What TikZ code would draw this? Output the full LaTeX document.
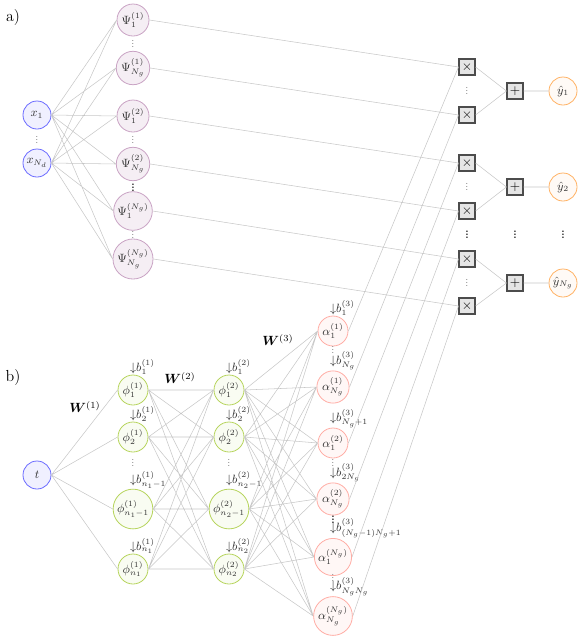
\documentclass[tikz,border=0pt]{standalone}
\usepackage{bm}
\usetikzlibrary{positioning}
\definecolor{inblue}{HTML}{6B6BFF}
\definecolor{psimauve}{HTML}{C9A3C4}
\definecolor{phigreen}{HTML}{B6D45C}
\definecolor{alphared}{HTML}{FFADA5}
\definecolor{outorange}{HTML}{FFB264}
\newcommand{\vdotsmall}{\vbox{\baselineskip2.2pt\lineskiplimit0pt\hbox{.}\hbox{.}\hbox{.}}}
\begin{document}
\begin{tikzpicture}[x=0.75pt,y=-0.75pt,
  neuron/.style={draw, circle, inner sep=1pt, line width=0.6pt, text=black!80, font=\small},
  innode/.style={neuron, draw=inblue, fill=inblue!10, minimum size=21pt},
  psinode/.style={neuron, draw=psimauve, fill=psimauve!18, minimum size=24pt},
  phinode/.style={neuron, draw=phigreen, fill=phigreen!8, minimum size=22.5pt},
  alphanode/.style={neuron, draw=alphared, fill=alphared!10, minimum size=22.5pt},
  outnode/.style={neuron, draw=outorange, fill=outorange!6, minimum size=21pt},
  opbox/.style={draw=black!70, fill=black!10, line width=0.8pt, minimum size=12pt, inner sep=0pt},
  bias/.style={inner sep=0pt, anchor=south west, xshift=-2.4pt, text=black!80, font=\small},
  dots/.style={inner sep=0pt, text=black!55, font=\scriptsize},
  bdots/.style={inner sep=0pt, text=black, font=\scriptsize\bfseries},
  wlabel/.style={font=\normalsize},
  conn/.style={draw=black!22, line width=0.4pt}]
\useasboundingbox (0,0) rectangle (582,640);

% a) product network
\node (la) at (13,18) {\large a)};
\node (x1) at (37,115) [innode] {$x_1$};
\node (xN) at (37,163) [innode] {$x_{N_d}$};
\node (dx) at (37,140) [dots] {\vdotsmall};

\node (P11) at (133,20) [psinode] {$\Psi_1^{(1)}$};
\node (P1N) at (133,68) [psinode] {$\Psi_{N_g}^{(1)}$};
\node (P21) at (133,116) [psinode] {$\Psi_1^{(2)}$};
\node (P2N) at (133,164) [psinode] {$\Psi_{N_g}^{(2)}$};
\node (PN1) at (133,211) [psinode] {$\Psi_1^{(N_g)}$};
\node (PNN) at (133,259) [psinode] {$\Psi_{N_g}^{(N_g)}$};
\node (dP1) at (133,44) [dots] {\vdotsmall};
\node (dP2) at (133,140) [dots] {\vdotsmall};
\node (dP3) at (133,188) [bdots] {\vdotsmall};
\node (dP4) at (133,235) [dots] {\vdotsmall};

\node (m1) at (467,67) [opbox] {$\times$};
\node (m2) at (467,115) [opbox] {$\times$};
\node (m3) at (467,163) [opbox] {$\times$};
\node (m4) at (467,211) [opbox] {$\times$};
\node (m5) at (467,259) [opbox] {$\times$};
\node (m6) at (467,306) [opbox] {$\times$};
\node (dm1) at (467,91) [dots] {\vdotsmall};
\node (dm2) at (467,187) [dots] {\vdotsmall};
\node (dm3) at (467,235) [bdots] {\vdotsmall};
\node (dm4) at (467,283) [dots] {\vdotsmall};

\node (s1) at (515,91) [opbox] {$+$};
\node (s2) at (515,187) [opbox] {$+$};
\node (s3) at (515,283) [opbox] {$+$};
\node (ds) at (515,235) [bdots] {\vdotsmall};

\node (y1) at (563,91) [outnode] {$\hat{y}_1$};
\node (y2) at (563,187) [outnode] {$\hat{y}_2$};
\node (y3) at (563,283) [outnode] {$\hat{y}_{N_g}$};
\node (dy) at (563,235) [bdots] {\vdotsmall};

% b) coefficient network
\node (lb) at (13,378) {\large b)};
\node (t) at (37,475) [innode] {$t$};

\node (f11) at (133,390) [phinode, label={[bias]90:$\mathord{\downarrow}b_1^{(1)}$}] {$\phi_1^{(1)}$};
\node (f12) at (133,437) [phinode, label={[bias]90:$\mathord{\downarrow}b_2^{(1)}$}] {$\phi_2^{(1)}$};
\node (f1m) at (133,509) [phinode, label={[bias]90:$\mathord{\downarrow}b_{n_1-1}^{(1)}$}] {$\phi_{n_1-1}^{(1)}$};
\node (f1n) at (133,569) [phinode, label={[bias]90:$\mathord{\downarrow}b_{n_1}^{(1)}$}] {$\phi_{n_1}^{(1)}$};
\node (df1) at (133,463) [dots] {\vdotsmall};

\node (f21) at (229,390) [phinode, label={[bias]90:$\mathord{\downarrow}b_1^{(2)}$}] {$\phi_1^{(2)}$};
\node (f22) at (229,437) [phinode, label={[bias]90:$\mathord{\downarrow}b_2^{(2)}$}] {$\phi_2^{(2)}$};
\node (f2m) at (229,509) [phinode, label={[bias]90:$\mathord{\downarrow}b_{n_2-1}^{(2)}$}] {$\phi_{n_2-1}^{(2)}$};
\node (f2n) at (229,569) [phinode, label={[bias]90:$\mathord{\downarrow}b_{n_2}^{(2)}$}] {$\phi_{n_2}^{(2)}$};
\node (df2) at (229,463) [dots] {\vdotsmall};

\node (a11) at (333,331) [alphanode, label={[bias]90:$\mathord{\downarrow}b_1^{(3)}$}] {$\alpha_1^{(1)}$};
\node (a1N) at (333,387) [alphanode, label={[bias]90:$\mathord{\downarrow}b_{N_g}^{(3)}$}] {$\alpha_{N_g}^{(1)}$};
\node (a21) at (333,443) [alphanode, label={[bias]90:$\mathord{\downarrow}b_{N_g+1}^{(3)}$}] {$\alpha_1^{(2)}$};
\node (a2N) at (333,499) [alphanode, label={[bias]90:$\mathord{\downarrow}b_{2N_g}^{(3)}$}] {$\alpha_{N_g}^{(2)}$};
\node (aN1) at (333,557) [alphanode, label={[bias]90:$\mathord{\downarrow}b_{(N_g-1)N_g+1}^{(3)}$}] {$\alpha_1^{(N_g)}$};
\node (aNN) at (333,616) [alphanode, label={[bias]90:$\mathord{\downarrow}b_{N_gN_g}^{(3)}$}] {$\alpha_{N_g}^{(N_g)}$};
\node (da1) at (333,350) [dots] {\vdotsmall};
\node (da2) at (333,463) [dots] {\vdotsmall};
\node (da3) at (333,520) [bdots] {\vdotsmall};
\node (da4) at (333,578) [dots] {\vdotsmall};

\node (W1) at (85,407) [wlabel] {$\bm{W}^{(1)}$};
\node (W2) at (180,378) [wlabel] {$\bm{W}^{(2)}$};
\node (W3) at (278,340) [wlabel] {$\bm{W}^{(3)}$};

\draw[conn]
(x1.east) to (P11.west)
(x1.east) to (P1N.west)
(x1.east) to (P21.west)
(x1.east) to (P2N.west)
(x1.east) to (PN1.west)
(x1.east) to (PNN.west)
(xN.east) to (P11.west)
(xN.east) to (P1N.west)
(xN.east) to (P21.west)
(xN.east) to (P2N.west)
(xN.east) to (PN1.west)
(xN.east) to (PNN.west);

\draw[conn]
(P11.east) to (m1.west)
(P1N.east) to (m2.west)
(P21.east) to (m3.west)
(P2N.east) to (m4.west)
(PN1.east) to (m5.west)
(PNN.east) to (m6.west)
(a11.east) to (m1.west)
(a1N.east) to (m2.west)
(a21.east) to (m3.west)
(a2N.east) to (m4.west)
(aN1.east) to (m5.west)
(aNN.east) to (m6.west);

\draw[conn]
(m1.east) to (s1.west)
(m2.east) to (s1.west)
(m3.east) to (s2.west)
(m4.east) to (s2.west)
(m5.east) to (s3.west)
(m6.east) to (s3.west)
(s1.east) to (y1.west)
(s2.east) to (y2.west)
(s3.east) to (y3.west);

\draw[conn]
(t.east) to (f11.west)
(t.east) to (f12.west)
(t.east) to (f1m.west)
(t.east) to (f1n.west);

\draw[conn]
(f11.east) to (f21.west)
(f11.east) to (f22.west)
(f11.east) to (f2m.west)
(f11.east) to (f2n.west)
(f12.east) to (f21.west)
(f12.east) to (f22.west)
(f12.east) to (f2m.west)
(f12.east) to (f2n.west)
(f1m.east) to (f21.west)
(f1m.east) to (f22.west)
(f1m.east) to (f2m.west)
(f1m.east) to (f2n.west)
(f1n.east) to (f21.west)
(f1n.east) to (f22.west)
(f1n.east) to (f2m.west)
(f1n.east) to (f2n.west);

\draw[conn]
(f21.east) to (a11.west)
(f21.east) to (a1N.west)
(f21.east) to (a21.west)
(f21.east) to (a2N.west)
(f21.east) to (aN1.west)
(f21.east) to (aNN.west)
(f22.east) to (a11.west)
(f22.east) to (a1N.west)
(f22.east) to (a21.west)
(f22.east) to (a2N.west)
(f22.east) to (aN1.west)
(f22.east) to (aNN.west)
(f2m.east) to (a11.west)
(f2m.east) to (a1N.west)
(f2m.east) to (a21.west)
(f2m.east) to (a2N.west)
(f2m.east) to (aN1.west)
(f2m.east) to (aNN.west)
(f2n.east) to (a11.west)
(f2n.east) to (a1N.west)
(f2n.east) to (a21.west)
(f2n.east) to (a2N.west)
(f2n.east) to (aN1.west)
(f2n.east) to (aNN.west);
\end{tikzpicture}
\end{document}
